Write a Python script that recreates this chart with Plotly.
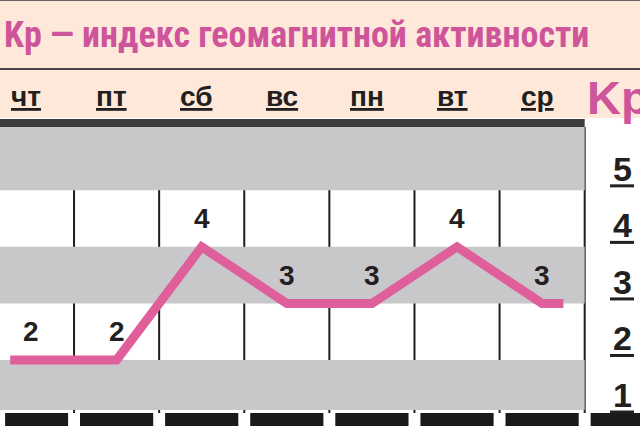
import plotly.graph_objects as go

# === Datos ===
days = ["чт", "пт", "сб", "вс", "пн", "вт", "ср"]
kp = [2, 2, 4, 3, 3, 4, 3]
scale_levels = [1, 2, 3, 4, 5]
title_main = "Kp"
title_rest = "— индекс геомагнитной активности"

W, H = 640, 426
X_RANGE = [-0.37, 7.15]
Y_RANGE = [0.832, 6.12]
BAND_BOTTOM = 1.115
BEIGE = "#fde8da"
GRAY = "#c8c8cb"
PINK = "#df5f9b"
TITLE_PINK = "#cf559a"
DARK = "#3d3b3c"
INK = "#231f20"


def py(pix):
    # pixel desde arriba -> coordenada paper
    return 1 - pix / H


fig = go.Figure()

# --- linea Kp (extremos prolongados un cuarto de columna) ---
n = len(days)
xs = [-0.25] + list(range(n)) + [n - 1 + 0.25]
ys = [kp[0]] + kp + [kp[-1]]
fig.add_trace(go.Scatter(
    x=xs, y=ys, mode="lines",
    line=dict(color=PINK, width=9),
    hoverinfo="skip", showlegend=False
))

shapes = []
# cabecera beige
shapes.append(dict(type="rect", xref="paper", yref="paper", x0=0, x1=1,
                   y0=py(118), y1=1, fillcolor=BEIGE, line_width=0, layer="below"))
shapes.append(dict(type="line", xref="paper", yref="paper", x0=0, x1=1,
                   y0=py(69), y1=py(69), line=dict(color="#4a4446", width=2), layer="below"))
shapes.append(dict(type="line", xref="paper", yref="paper", x0=0, x1=1,
                   y0=py(0.5), y1=py(0.5), line=dict(color="#6a6466", width=1), layer="below"))
# barra oscura
shapes.append(dict(type="rect", xref="x", yref="paper", x0=X_RANGE[0], x1=n - 0.5,
                   y0=py(127), y1=py(119), fillcolor=DARK, line_width=0, layer="below"))

# bandas grises (niveles impares)
for k in scale_levels:
    if k % 2 == 1:
        shapes.append(dict(type="rect", xref="x", yref="y",
                           x0=X_RANGE[0], x1=n - 0.5,
                           y0=k if k > 1 else BAND_BOTTOM,
                           y1=k + 1 if k < max(scale_levels) else Y_RANGE[1],
                           fillcolor=GRAY, line_width=0, layer="below"))

# separadores de columnas
for i in range(n):
    shapes.append(dict(type="line", xref="x", yref="paper", x0=i + 0.5, x1=i + 0.5,
                       y0=py(413), y1=py(127), line=dict(color="#1e1e1e", width=2),
                       layer="below"))

# barras negras inferiores
gap = 0.07
for i in range(n + 1):
    x0 = i - 0.5 + gap if i > 0 else X_RANGE[0] + 0.06
    x1 = i + 0.5 - gap if i < n else X_RANGE[1]
    shapes.append(dict(type="rect", xref="x", yref="paper", x0=x0, x1=x1,
                       y0=0, y1=py(413), fillcolor="#1a1a1a", line_width=0, layer="below"))

# subrayado de la escala
for k in scale_levels:
    shapes.append(dict(type="line", xref="paper", yref="y", ysizemode="pixel",
                       yanchor=k + 0.38, y0=-17, y1=-17,
                       x0=610 / W, x1=634 / W, line=dict(color=INK, width=3)))

annotations = []
# titulo
annotations.append(dict(
    xref="paper", yref="paper", x=2 / W, y=py(35), xanchor="left", yanchor="middle",
    text=f"{title_main} {title_rest}", showarrow=False,
    font=dict(family="Roboto Condensed, Open Sans", size=36, color=TITLE_PINK, weight="bold")
))
# dias
for i, d in enumerate(days):
    annotations.append(dict(
        xref="x", yref="paper", x=i, xshift=-5, y=py(96), xanchor="center", yanchor="middle",
        text=f"<u>{d}</u>", showarrow=False,
        font=dict(family="Liberation Sans", size=28, color=INK, weight="bold")
    ))
# Kp a la derecha
annotations.append(dict(
    xref="paper", yref="paper", x=585 / W, y=py(97), xanchor="left", yanchor="middle",
    text=title_main, showarrow=False,
    font=dict(family="Liberation Sans", size=47, color=TITLE_PINK, weight="bold")
))
# escala
for k in scale_levels:
    annotations.append(dict(
        xref="paper", yref="y", x=622 / W, y=k + 0.38, xanchor="center", yanchor="middle",
        text=str(k), showarrow=False,
        font=dict(family="Liberation Sans", size=34, color=INK, weight="bold")
    ))
# valores
for i, v in enumerate(kp):
    annotations.append(dict(
        xref="x", yref="y", x=i, y=v, yshift=28, xanchor="center", yanchor="middle",
        text=str(v), showarrow=False,
        font=dict(family="Liberation Sans", size=28, color=INK, weight="bold")
    ))

fig.update_layout(
    width=W, height=H,
    margin=dict(l=0, r=0, t=0, b=0),
    paper_bgcolor="white", plot_bgcolor="rgba(0,0,0,0)",
    xaxis=dict(range=X_RANGE, domain=[0, 1], visible=False, fixedrange=True),
    yaxis=dict(range=Y_RANGE, domain=[0, py(127)], visible=False, fixedrange=True),
    shapes=shapes, annotations=annotations,
    showlegend=False,
)

fig.write_html("out.html", config=dict(displayModeBar=False),
               post_script="document.body.style.margin='0';")
